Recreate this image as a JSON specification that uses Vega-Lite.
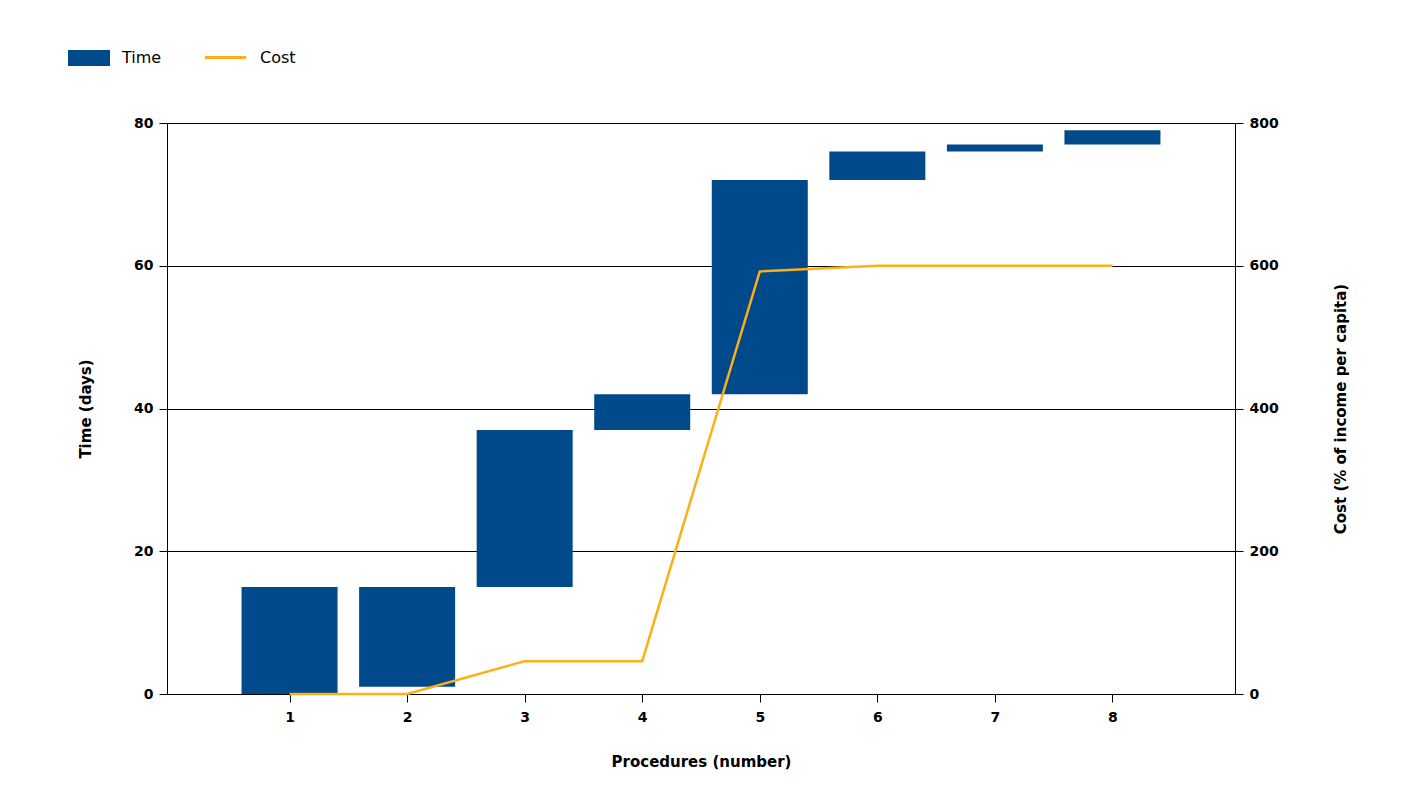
{
  "$schema": "https://vega.github.io/schema/vega-lite/v6.json",
  "autosize": {"type": "none"},
  "padding": {"left": 167, "top": 123, "right": 173, "bottom": 109},
  "width": 1068,
  "height": 571,
  "background": "white",
  "config": {
    "view": {"stroke": null},
    "font": "DejaVu Sans",
    "axis": {"labelFontWeight": "bold", "labelFontSize": 14, "titleFontSize": 15, "titleFontWeight": "bold", "labelColor": "#000", "titleColor": "#000", "domainColor": "#000", "tickColor": "#000", "gridColor": "#000", "gridOpacity": 1}
  },
  "data": {"values": [
    {"proc": 1, "start": 0, "end": 15, "cost": 0, "s1": "Time", "s2": "Cost"},
    {"proc": 2, "start": 1, "end": 15, "cost": 0, "s1": "Time", "s2": "Cost"},
    {"proc": 3, "start": 15, "end": 37, "cost": 46, "s1": "Time", "s2": "Cost"},
    {"proc": 4, "start": 37, "end": 42, "cost": 46, "s1": "Time", "s2": "Cost"},
    {"proc": 5, "start": 42, "end": 72, "cost": 592, "s1": "Time", "s2": "Cost"},
    {"proc": 6, "start": 72, "end": 76, "cost": 600, "s1": "Time", "s2": "Cost"},
    {"proc": 7, "start": 76, "end": 77, "cost": 600, "s1": "Time", "s2": "Cost"},
    {"proc": 8, "start": 77, "end": 79, "cost": 600, "s1": "Time", "s2": "Cost"}
  ]},
  "encoding": {
    "x": {"field": "proc", "type": "quantitative", "scale": {"domain": [0, 9], "nice": false, "zero": false},
      "axis": {"values": [1,2,3,4,5,6,7,8], "grid": false, "title": "Procedures (number)", "titlePadding": 30, "labelPadding": 8, "tickSize": 8}}
  },
  "layer": [
    {
      "mark": {"type": "bar", "width": 96, "color": "#004a8b"},
      "encoding": {
        "y": {"field": "end", "type": "quantitative", "scale": {"domain": [0, 80], "nice": false},
          "axis": {"values": [0,20,40,60,80], "title": "Time (days)", "titlePadding": 40, "tickSize": 8, "labelPadding": 6}},
        "y2": {"field": "start"},
        "color": {"field": "s1", "type": "nominal", "scale": {"range": ["#004a8b"]},
          "legend": {"title": null, "orient": "none", "legendX": -99, "legendY": -86, "symbolType": "M-1,-0.38H1V0.38H-1Z", "symbolSize": 1764, "symbolOpacity": 1, "labelFontSize": 16, "labelFont": "DejaVu Sans", "symbolStrokeWidth": 0, "labelOffset": 12}}
      }
    },
    {
      "mark": {"type": "line", "color": "#fcaf17", "strokeWidth": 2.5},
      "encoding": {
        "y": {"field": "cost", "type": "quantitative", "scale": {"domain": [0, 800], "nice": false},
          "axis": {"orient": "right", "values": [0,200,400,600,800], "title": "Cost (% of income per capita)", "titleAngle": 270, "titlePadding": 70, "grid": false, "tickSize": 8, "labelPadding": 6, "domain": true}},
        "stroke": {"field": "s2", "type": "nominal", "scale": {"range": ["#fcaf17"]},
          "legend": {"title": null, "orient": "none", "legendX": 36, "legendY": -88, "symbolType": "stroke", "symbolSize": 1700, "symbolStrokeWidth": 3, "labelFontSize": 16, "labelFont": "DejaVu Sans", "labelOffset": 12}}
      }
    }
  ],
  "resolve": {"scale": {"y": "independent", "color": "independent"}}
}
